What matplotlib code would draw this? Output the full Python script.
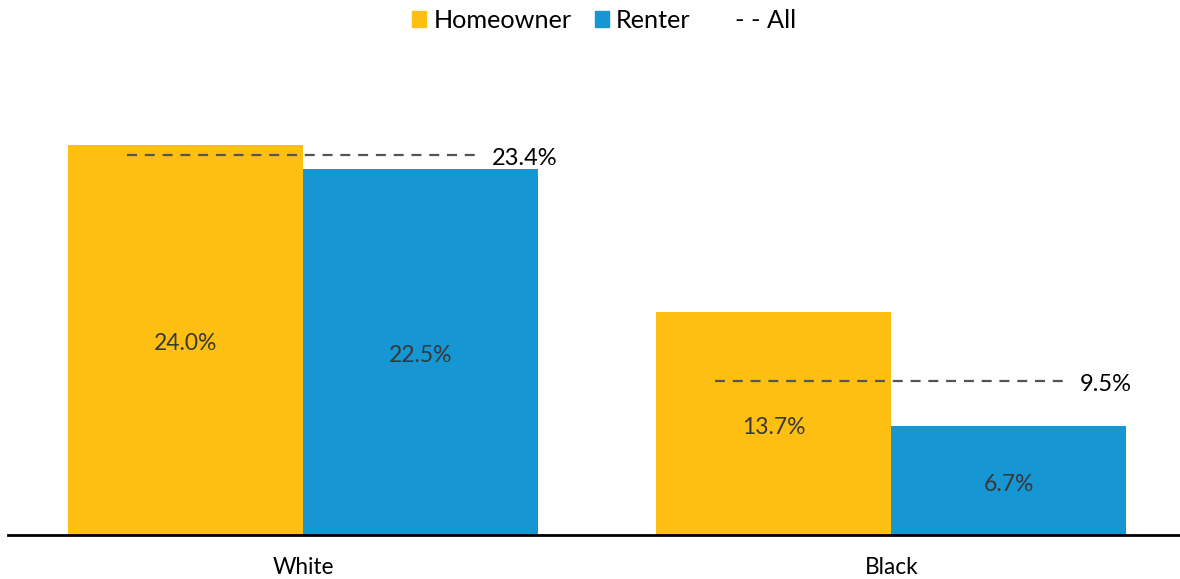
import numpy as np
import matplotlib.pyplot as plt
from matplotlib.patches import Patch
from matplotlib.lines import Line2D

plt.rcParams['font.family'] = ['Lato', 'DejaVu Sans']

groups = ['White', 'Black']
homeowner = [24.0, 13.7]
renter = [22.5, 6.7]
overall = [23.4, 9.5]

yellow = '#fdbf11'
blue = '#1696d2'

x = np.arange(len(groups))
w = 0.4

fig = plt.figure(figsize=(11.8, 5.79), dpi=100)
ax = fig.add_axes([0.0068, 0.076, 0.9932, 0.842])

b1 = ax.bar(x - w/2, homeowner, w, color=yellow)
b2 = ax.bar(x + w/2, renter, w, color=blue)

# labels sit a touch below the bar middle in the original
for bars, vals in [(b1, homeowner), (b2, renter)]:
    for b, v in zip(bars, vals):
        ax.text(b.get_x() + b.get_width()/2, v/2 - 0.22, '%.1f%%' % v,
                ha='center', va='center', fontsize=16.5, color='#383838')

for xi, v in zip(x, overall):
    ax.plot([xi - 0.3, xi + 0.3], [v, v], color='#555555', lw=1.6,
            dashes=(4.5, 3.5))
    ax.text(xi + 0.32, v - 0.22, '%.1f%%' % v, ha='left', va='center',
            fontsize=17, color='black')

ax.set_xlim(-0.502, 1.491)
ax.set_ylim(0, 30)
ax.set_xticks(x)
ax.set_xticklabels(groups, fontsize=16.3)
ax.tick_params(axis='x', length=0, pad=16)
ax.set_yticks([])
for s in ['top', 'right', 'left']:
    ax.spines[s].set_visible(False)
ax.spines['bottom'].set_linewidth(2)
ax.spines['bottom'].set_color('black')

handles = [Patch(color=yellow), Patch(color=blue),
           Line2D([], [], color='none')]
labels = ['Homeowner', 'Renter', '- - All']
fig.legend(handles, labels, loc='upper center', bbox_to_anchor=(0.512, 1.024),
           ncol=3, frameon=False, fontsize=18.2, handlelength=0.55,
           handleheight=0.55, handletextpad=0.3, columnspacing=0.9)

fig.savefig('out.png', dpi=100)
